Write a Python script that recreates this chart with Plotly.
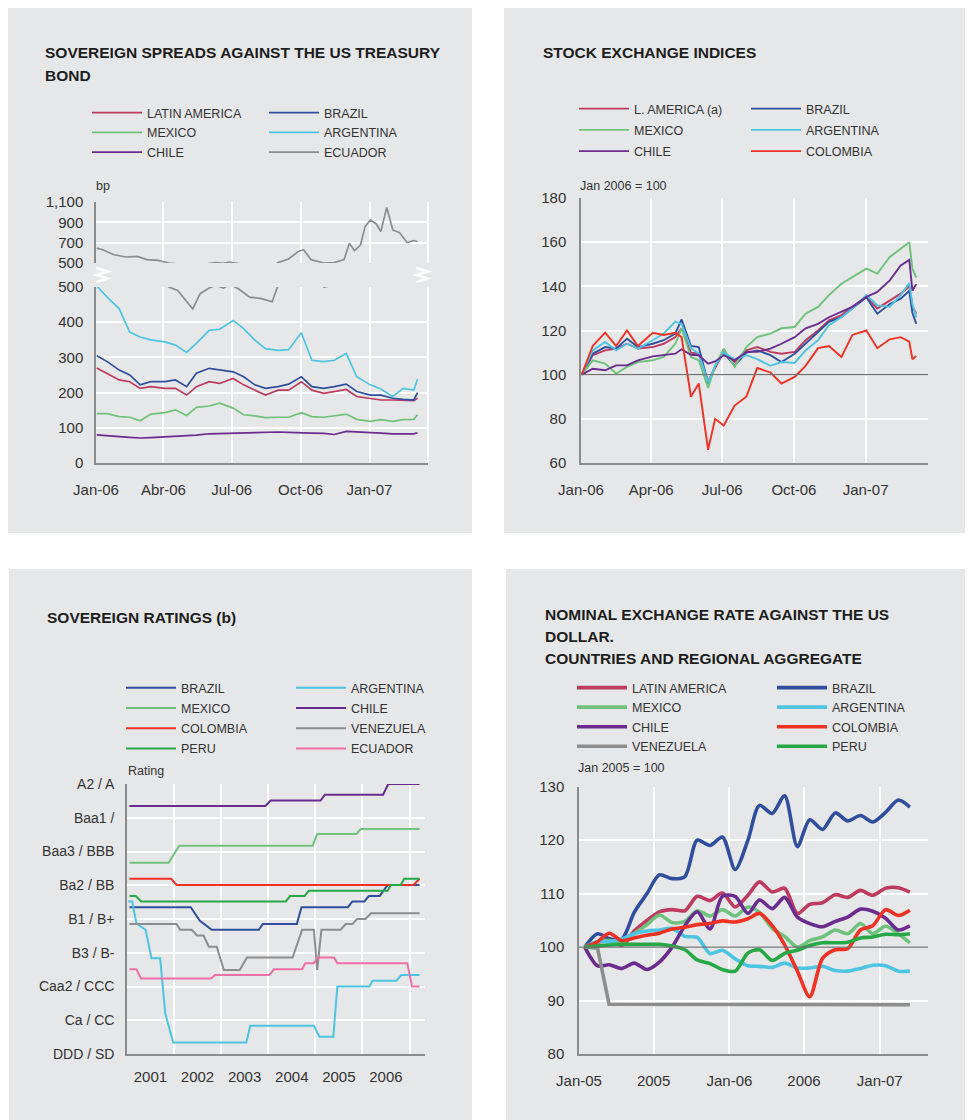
import plotly.graph_objects as go

W, H = 973, 1120
OFF = 8  # the page body offsets the figure by 8px
def X(px): return (px - OFF) / W
def Y(py): return 1 - (py - OFF) / H

FONT = "Liberation Sans, Arial, Helvetica, sans-serif"
TXT = "#333333"
PANEL = "#e6e7e8"

C_LATAM = "#be3a60"
C_BRAZIL = "#2f4f9e"
C_MEXICO = "#6fc27c"
C_ARG = "#4ec4e3"
C_CHILE = "#6a2c8f"
C_GRAY = "#8d8d8d"
C_COL = "#ef3224"
C_PERU = "#27a846"
C_PINK = "#ef6fa8"

# ---------------- Sovereign spreads (bp) ----------------
tl_dates = ["2006-01-02", "2006-01-16", "2006-02-01", "2006-02-15", "2006-03-01", "2006-03-15",
            "2006-04-03", "2006-04-17", "2006-05-02", "2006-05-15", "2006-06-01", "2006-06-15",
            "2006-07-03", "2006-07-17", "2006-08-01", "2006-08-15", "2006-09-01", "2006-09-15",
            "2006-10-02", "2006-10-16", "2006-11-01", "2006-11-15", "2006-12-01", "2006-12-15",
            "2007-01-02", "2007-01-16", "2007-02-01", "2007-02-15", "2007-03-01", "2007-03-06"]
tl_latam = [270, 255, 236, 231, 212, 217, 212, 212, 193, 217, 231, 226, 240, 222, 207,
            193, 207, 207, 231, 207, 198, 203, 209, 189, 184, 179, 179, 177, 177, 184]
tl_brazil = [305, 288, 264, 250, 222, 231, 231, 236, 217, 255, 269, 264, 259, 245, 222,
             212, 217, 224, 245, 217, 212, 217, 224, 203, 193, 193, 184, 181, 179, 200]
tl_mexico = [140, 140, 132, 130, 120, 139, 143, 151, 135, 158, 162, 170, 156, 137, 134,
             129, 130, 130, 143, 132, 130, 134, 139, 124, 118, 123, 118, 123, 124, 137]
tl_argentina = [503, 471, 438, 372, 358, 350, 344, 335, 314, 340, 377, 380, 405, 382, 349,
                325, 320, 322, 370, 292, 288, 292, 311, 245, 222, 210, 189, 212, 207, 238]
tl_chile = [80, 77, 75, 73, 71, 72, 74, 75, 76, 79, 83, 84, 84, 85, 87,
            88, 88, 87, 87, 85, 84, 81, 90, 89, 87, 85, 83, 82, 83, 86]
ecu_dates = ["2006-01-02", "2006-01-10", "2006-01-25", "2006-02-10", "2006-02-25", "2006-03-10",
             "2006-03-25", "2006-04-08", "2006-04-20", "2006-05-01", "2006-05-10", "2006-05-20",
             "2006-06-01", "2006-06-10", "2006-06-20", "2006-06-28", "2006-07-10", "2006-07-25",
             "2006-08-10", "2006-08-24", "2006-09-01", "2006-09-15", "2006-09-28", "2006-10-05",
             "2006-10-15", "2006-11-01", "2006-11-15", "2006-11-28", "2006-12-05", "2006-12-12",
             "2006-12-20", "2006-12-26", "2007-01-02", "2007-01-10", "2007-01-16", "2007-01-20",
             "2007-01-24", "2007-02-01", "2007-02-10", "2007-02-20", "2007-03-01", "2007-03-06"]
ecu_vals = [646, 630, 581, 559, 565, 533, 526, 500, 490, 462,
            438, 481, 497, 505, 497, 508, 495, 471, 467, 458,
            505, 539, 614, 630, 533, 500, 505, 533, 695, 620,
            679, 858, 923, 884, 809, 923, 1046, 825, 799, 702,
            721, 711]
tl_tickvals = ["2006-01-01", "2006-04-01", "2006-07-01", "2006-10-01", "2007-01-01"]
tl_ticktext = ["Jan-06", "Abr-06", "Jul-06", "Oct-06", "Jan-07"]
tl_low_ticks = [0, 100, 200, 300, 400, 500]
tl_low_text = ["0", "100", "200", "300", "400", "500"]
tl_up_ticks = [500, 700, 900, 1100]
tl_up_text = ["500", "700", "900", "1,100"]

# ---------------- Stock exchange indices ----------------
tr_dates = ["2006-01-02", "2006-01-16", "2006-02-01", "2006-02-15", "2006-03-01", "2006-03-15",
            "2006-04-03", "2006-04-17", "2006-05-02", "2006-05-10", "2006-05-22", "2006-06-01",
            "2006-06-13", "2006-06-22", "2006-07-03", "2006-07-17", "2006-08-01", "2006-08-15",
            "2006-09-01", "2006-09-15", "2006-10-02", "2006-10-16", "2006-11-01", "2006-11-15",
            "2006-12-01", "2006-12-15", "2007-01-02", "2007-01-16", "2007-02-01", "2007-02-15",
            "2007-02-26", "2007-03-02", "2007-03-07"]
tr_latam = [100, 108.8, 111, 111.8, 114, 111.8, 112.5, 114, 117, 121, 110, 109.5, 97, 103, 110.3,
            105.7, 111, 112.5, 110.3, 109.5, 110.3, 115.6, 120, 124.6, 127, 130.7, 135.2, 130,
            133.7, 136.7, 140, 131, 127.6]
tr_brazil = [100, 109.5, 112.5, 111.8, 116.3, 112.5, 114, 115.6, 118.6, 125, 113, 112.5, 96, 104, 110,
             104, 110, 111, 108.8, 105.7, 109.5, 114, 119.3, 123.9, 126, 130, 135, 127.6,
             132, 134.4, 138, 128, 123]
tr_mexico = [100, 106.5, 105, 100.5, 103.5, 105.7, 106.5, 108, 114, 121, 108, 106.5, 94, 104, 111.8,
             103.5, 112.5, 117, 118.6, 121, 121.6, 127.6, 130.7, 136, 141.2, 144.2, 148, 145.8,
             153.3, 157, 160, 148, 144]
tr_argentina = [100, 111, 114.8, 111, 114, 111.8, 115.6, 118.6, 124, 123, 112, 109.5, 96.5, 104, 110,
                107, 108.8, 107, 104, 105.7, 105.3, 111, 115.6, 122.4, 126, 130, 136, 131.4,
                130.7, 136, 141.5, 132, 126]
tr_chile = [100, 102.7, 102, 104.2, 104.2, 106.5, 108.3, 108.8, 109.5, 111.5, 109, 108.8, 105, 106, 108.8,
            106.5, 110.3, 110.3, 111.8, 114, 117, 121, 123, 126, 128.4, 130.7, 135.2, 137.5,
            142.7, 149.5, 152, 138, 141]
tr_colombia = [100, 113, 119, 113, 120, 113, 119, 118, 119, 117, 90, 96, 66, 80, 77,
               86, 90, 103, 101, 96, 99, 104, 112, 113, 108, 118, 120, 112,
               116, 117, 115, 107, 108.5]
tr_ticktext = ["Jan-06", "Apr-06", "Jul-06", "Oct-06", "Jan-07"]

# ---------------- Sovereign ratings ----------------
rating_labels = ["DDD / SD", "Ca / CC", "Caa2 / CCC", "B3 / B-", "B1 / B+",
                 "Ba2 / BB", "Baa3 / BBB", "Baa1 /", "A2 / A"]
rating_levels = [0, 1, 2, 3, 4, 5, 6, 7, 8]
bl_years = ["2001-07-02", "2002-07-02", "2003-07-02", "2004-07-02", "2005-07-02", "2006-07-02"]
bl_year_text = ["2001", "2002", "2003", "2004", "2005", "2006"]
bl_year_grid = ["2002-01-01", "2003-01-01", "2004-01-01", "2005-01-01", "2006-01-01", "2007-01-01"]

rt_brazil_x = ["2001-01-20", "2002-05-10", "2002-07-20", "2002-08-20", "2002-10-20", "2003-10-20",
               "2003-11-20", "2004-08-10", "2004-09-15", "2005-09-10", "2005-10-15", "2006-01-15",
               "2006-02-20", "2006-05-15", "2006-06-15", "2006-07-15", "2007-03-20"]
rt_brazil_y = [4.35, 4.35, 3.95, 3.85, 3.68, 3.68, 3.85, 3.85, 4.35, 4.35, 4.52, 4.52,
               4.68, 4.68, 4.84, 5.01, 5.01]
rt_mexico_x = ["2001-01-20", "2001-11-20", "2001-12-20", "2002-02-10", "2004-12-10", "2005-01-15",
               "2005-11-15", "2005-12-20", "2007-03-20"]
rt_mexico_y = [5.67, 5.67, 5.85, 6.17, 6.17, 6.52, 6.52, 6.67, 6.67]
rt_colombia_x = ["2001-01-20", "2001-12-10", "2002-01-20", "2007-02-01", "2007-03-20"]
rt_colombia_y = [5.19, 5.19, 5.01, 5.01, 5.19]
rt_peru_x = ["2001-01-20", "2001-03-10", "2001-04-20", "2004-05-15", "2004-06-20", "2004-10-10",
             "2004-11-10", "2006-07-15", "2006-08-10", "2006-10-25", "2006-11-20", "2007-03-20"]
rt_peru_y = [4.68, 4.68, 4.52, 4.52, 4.68, 4.68, 4.84, 4.84, 5.01, 5.01, 5.19, 5.19]
rt_argentina_x = ["2001-01-10", "2001-02-10", "2001-03-15", "2001-05-25", "2001-07-10", "2001-09-15",
                  "2001-10-25", "2001-12-25", "2003-07-15", "2003-08-15", "2004-12-20", "2005-02-01",
                  "2005-05-20", "2005-06-20", "2006-02-25", "2006-03-20", "2006-09-20", "2006-10-30",
                  "2007-03-20"]
rt_argentina_y = [4.52, 4.52, 3.87, 3.68, 2.84, 2.84, 1.2, 0.34, 0.34, 0.84, 0.84, 0.51,
                  0.51, 2.0, 2.0, 2.17, 2.17, 2.34, 2.34]
rt_chile_x = ["2001-01-20", "2003-12-10", "2004-01-20", "2005-02-10", "2005-03-15", "2006-06-10",
              "2006-07-20", "2007-03-20"]
rt_chile_y = [7.35, 7.35, 7.51, 7.51, 7.68, 7.68, 8.0, 8.0]
rt_venezuela_x = ["2001-01-20", "2002-01-20", "2002-02-17", "2002-05-18", "2002-06-28", "2002-08-18",
                  "2002-09-27", "2002-11-28", "2003-01-22", "2003-05-25", "2003-07-20", "2004-07-08",
                  "2004-09-20", "2004-12-20", "2005-01-15", "2005-02-17", "2005-07-15", "2005-08-25",
                  "2005-10-15", "2005-11-20", "2006-01-25", "2006-03-08", "2007-03-20"]
rt_venezuela_y = [3.85, 3.85, 3.68, 3.68, 3.51, 3.51, 3.18, 3.18, 2.49, 2.49, 2.86, 2.86,
                  3.68, 3.68, 2.49, 3.68, 3.68, 3.85, 3.85, 4.0, 4.0, 4.17, 4.17]
rt_ecuador_x = ["2001-01-20", "2001-03-15", "2001-04-20", "2002-10-15", "2002-11-15", "2004-01-10",
                "2004-02-15", "2004-09-20", "2004-10-15", "2004-12-20", "2005-01-15", "2005-05-25",
                "2005-06-20", "2006-12-15", "2007-01-20", "2007-03-20"]
rt_ecuador_y = [2.51, 2.51, 2.24, 2.24, 2.34, 2.34, 2.51, 2.51, 2.69, 2.69, 2.86, 2.86,
                2.69, 2.69, 2.0, 2.0]

# ---------------- Nominal exchange rate ----------------
br_dates = ["2005-01-15", "2005-02-15", "2005-03-15", "2005-04-15", "2005-05-15", "2005-06-15",
            "2005-07-15", "2005-08-15", "2005-09-15", "2005-10-15", "2005-11-15", "2005-12-15",
            "2006-01-15", "2006-02-15", "2006-03-15", "2006-04-15", "2006-05-15", "2006-06-15",
            "2006-07-15", "2006-08-15", "2006-09-15", "2006-10-15", "2006-11-15", "2006-12-15",
            "2007-01-15", "2007-02-15", "2007-03-15"]
br_latam = [100, 100.8, 101.5, 100.3, 103, 105, 106.6, 107, 106.8, 109.5, 108.7, 110.1, 107.5, 109.7,
            112.2, 110.3, 111, 106.3, 108, 108.3, 109.8, 109.3, 110.6, 109.7, 111, 111.1, 110.3]
br_brazil = [100, 102.5, 101.6, 101.5, 106.5, 110, 113.5, 112.8, 113.2, 120.0, 119.0, 120.6, 114.5, 120.0,
             126.5, 125.0, 128.3, 118.8, 123.8, 122.0, 125.1, 123.6, 124.6, 123.4, 125.2, 127.5, 126.2]
br_mexico = [100, 101, 101.2, 100.8, 102.5, 104.2, 106, 104.6, 104.8, 106.8, 105.8, 107, 105.8, 107.5,
             106.5, 103.5, 102, 100, 101.2, 101.9, 103.2, 102.5, 104.4, 102.5, 103.9, 102.5, 100.8]
br_argentina = [100, 101, 101, 101.5, 102.5, 103, 103.2, 103.5, 102, 101.8, 98.8, 99.4, 97.8, 96.5,
                96.4, 96.2, 97, 96.1, 96.1, 96.4, 95.6, 95.5, 96, 96.6, 96.5, 95.5, 95.5]
br_chile = [100, 96.5, 96.7, 96, 97, 95.8, 97.2, 100, 104, 106.6, 103.4, 109.5, 109.5, 106.3,
            108.8, 107.2, 109.3, 105.6, 104.4, 103.8, 104.8, 105.6, 107.1, 106.7, 105.4, 103.2, 104]
br_colombia = [100, 101, 102.6, 101.2, 101.7, 102.2, 102.6, 103.4, 103.7, 104.2, 104.4, 104.9, 104.7, 105.3,
               106.3, 104, 100.4, 95.5, 90.7, 97.9, 99.5, 99.7, 103.2, 104, 107, 105.9, 106.9]
br_peru = [100, 100.2, 100.4, 100.5, 100.5, 100.5, 100.5, 100.2, 99.5, 97.6, 96.9, 95.8, 95.5, 98.9,
           99.5, 97.5, 98.8, 99.4, 100.3, 100.8, 100.8, 100.9, 101.7, 101.9, 102.4, 102.3, 102.5]
br_venezuela = [100, 99.8, 89.3, 89.3, 89.3, 89.3, 89.3, 89.3, 89.3, 89.3, 89.3, 89.3, 89.3, 89.3,
                89.3, 89.3, 89.3, 89.3, 89.3, 89.3, 89.3, 89.3, 89.3, 89.3, 89.3, 89.3, 89.2]
br_tickvals = ["2005-01-01", "2005-07-01", "2006-01-01", "2006-07-01", "2007-01-01"]
br_ticktext = ["Jan-05", "2005", "Jan-06", "2006", "Jan-07"]

fig = go.Figure()

def add(x, y, name, color, width, xa, ya, legend, shape="linear", showlegend=True):
    line = dict(color=color, width=width, shape=shape)
    if shape == "spline":
        line["smoothing"] = 0.8
    fig.add_trace(go.Scatter(
        x=x, y=y, name=name, mode="lines", line=line,
        xaxis=xa, yaxis=ya, legend=legend, legendgroup=legend + name,
        showlegend=showlegend, hoverinfo="skip"))

# Top-left
w1 = 1.7
add(ecu_dates, ecu_vals, "ECUADOR", C_GRAY, w1, "x", "y2", "legend2", showlegend=False)
add(tl_dates, tl_latam, "LATIN AMERICA", C_LATAM, w1, "x", "y", "legend")
add(tl_dates, tl_brazil, "BRAZIL", C_BRAZIL, w1, "x", "y", "legend2")
add(tl_dates, tl_mexico, "MEXICO", C_MEXICO, w1, "x", "y", "legend")
add(tl_dates, tl_argentina, "ARGENTINA", C_ARG, w1, "x", "y", "legend2")
add(tl_dates, tl_chile, "CHILE", C_CHILE, w1, "x", "y", "legend")
add(ecu_dates, ecu_vals, "ECUADOR", C_GRAY, w1, "x", "y", "legend2")

# Top-right
w2 = 1.9
add(tr_dates, tr_latam, "L. AMERICA (a)", C_LATAM, w2, "x3", "y3", "legend3")
add(tr_dates, tr_brazil, "BRAZIL", C_BRAZIL, w2, "x3", "y3", "legend4")
add(tr_dates, tr_mexico, "MEXICO", C_MEXICO, w2, "x3", "y3", "legend3")
add(tr_dates, tr_argentina, "ARGENTINA", C_ARG, w2, "x3", "y3", "legend4")
add(tr_dates, tr_chile, "CHILE", C_CHILE, w2, "x3", "y3", "legend3")
add(tr_dates, tr_colombia, "COLOMBIA", C_COL, w2, "x3", "y3", "legend4")

# Bottom-left
w3 = 2
add(rt_brazil_x, rt_brazil_y, "BRAZIL", C_BRAZIL, w3, "x4", "y4", "legend5")
add(rt_mexico_x, rt_mexico_y, "MEXICO", C_MEXICO, w3, "x4", "y4", "legend5")
add(rt_colombia_x, rt_colombia_y, "COLOMBIA", C_COL, w3, "x4", "y4", "legend5")
add(rt_peru_x, rt_peru_y, "PERU", C_PERU, w3, "x4", "y4", "legend5")
add(rt_argentina_x, rt_argentina_y, "ARGENTINA", C_ARG, w3, "x4", "y4", "legend6")
add(rt_chile_x, rt_chile_y, "CHILE", C_CHILE, w3, "x4", "y4", "legend6")
add(rt_venezuela_x, rt_venezuela_y, "VENEZUELA", C_GRAY, w3, "x4", "y4", "legend6")
add(rt_ecuador_x, rt_ecuador_y, "ECUADOR", C_PINK, w3, "x4", "y4", "legend6")

# Bottom-right
w4 = 3.6
add(br_dates, br_latam, "LATIN AMERICA", C_LATAM, w4, "x5", "y5", "legend7", "spline")
add(br_dates, br_brazil, "BRAZIL", C_BRAZIL, w4, "x5", "y5", "legend8", "spline")
add(br_dates, br_mexico, "MEXICO", C_MEXICO, w4, "x5", "y5", "legend7", "spline")
add(br_dates, br_argentina, "ARGENTINA", C_ARG, w4, "x5", "y5", "legend8", "spline")
add(br_dates, br_chile, "CHILE", C_CHILE, w4, "x5", "y5", "legend7", "spline")
add(br_dates, br_colombia, "COLOMBIA", C_COL, w4, "x5", "y5", "legend8", "spline")
add(br_dates, br_venezuela, "VENEZUELA", C_GRAY, w4, "x5", "y5", "legend7")
add(br_dates, br_peru, "PERU", C_PERU, w4, "x5", "y5", "legend8", "spline")

AXLINE = "#8c8c8c"
tickfont = dict(family=FONT, size=15, color=TXT)
base = dict(showgrid=True, gridcolor="white", gridwidth=1.8, showline=True, linecolor=AXLINE,
            linewidth=1.5, ticks="", zeroline=False, tickfont=tickfont, fixedrange=True,
            automargin=False)

layout = dict(
    width=W, height=H, autosize=False,
    margin=dict(l=0, r=0, t=0, b=0, pad=0, autoexpand=False),
    paper_bgcolor="white", plot_bgcolor=PANEL,
    font=dict(family=FONT, color=TXT),
    xaxis=dict(base, domain=[X(96), X(428)], anchor="y", type="date",
               range=["2006-01-01", "2007-03-20"], tickmode="array",
               tickvals=tl_tickvals, ticktext=tl_ticktext, ticklabelstandoff=12),
    yaxis=dict(base, domain=[Y(463), Y(287)], anchor="x", range=[0, 500], tickmode="array",
               tickvals=tl_low_ticks, ticktext=tl_low_text, ticklabelstandoff=8),
    yaxis2=dict(base, domain=[Y(263), Y(202)], anchor="x", range=[500, 1100], tickmode="array",
                tickvals=tl_up_ticks, ticktext=tl_up_text, ticklabelstandoff=8),
    xaxis3=dict(base, domain=[X(581), X(928)], anchor="y3", type="date",
                range=["2006-01-01", "2007-03-22"], tickmode="array",
                tickvals=tl_tickvals, ticktext=tr_ticktext, ticklabelstandoff=12),
    yaxis3=dict(base, domain=[Y(463), Y(198)], anchor="x3", range=[60, 180], dtick=20,
                ticklabelstandoff=10),
    xaxis4=dict(base, domain=[X(127), X(425)], anchor="y4", type="date",
                range=["2001-01-01", "2007-05-01"], tickmode="array",
                tickvals=bl_years, ticktext=bl_year_text, showgrid=False, ticklabelstandoff=8,
                minor=dict(tickmode="array", tickvals=bl_year_grid, showgrid=True,
                           gridcolor="white", gridwidth=1.8, ticks="")),
    yaxis4=dict(base, domain=[Y(1054), Y(784)], anchor="x4", range=[0, 8], tickmode="array",
                tickvals=rating_levels, ticktext=rating_labels, ticklabelstandoff=8,
                tickfont=dict(family=FONT, size=14, color=TXT)),
    xaxis5=dict(base, domain=[X(579), X(928)], anchor="y5", type="date",
                range=["2005-01-01", "2007-04-28"], tickmode="array",
                tickvals=br_tickvals, ticktext=br_ticktext, ticklabelstandoff=12),
    yaxis5=dict(base, domain=[Y(1054), Y(786.7)], anchor="x5", range=[80, 130], dtick=10,
                ticklabelstandoff=10),
)

legfont = dict(family=FONT, size=12.5, color=TXT)
def leg(xpx, ypx, gap):
    return dict(x=X(xpx), y=Y(ypx), xanchor="left", yanchor="top", orientation="v",
                bgcolor="rgba(0,0,0,0)", borderwidth=0, font=legfont, itemwidth=50,
                tracegroupgap=gap, traceorder="grouped")

layout["legend"] = leg(87, 98, 0.5)
layout["legend2"] = leg(264, 98, 0.5)
layout["legend3"] = leg(574, 94, 2)
layout["legend4"] = leg(746, 94, 2)
layout["legend5"] = leg(121, 673, 1)
layout["legend6"] = leg(291, 673, 1)
layout["legend7"] = leg(572, 673, 0.3)
layout["legend8"] = leg(772, 673, 0.3)

fig.update_layout(**layout)

# panel backgrounds
for (x0, y0, x1, y1) in [(7, 7, 472, 533), (504, 7, 985, 533), (9, 569, 472, 1132), (506, 569, 985, 1132)]:
    fig.add_shape(type="rect", xref="paper", yref="paper", x0=X(x0), x1=X(x1), y0=Y(y1), y1=Y(y0),
                  fillcolor=PANEL, line=dict(width=0), layer="below")

# right white frame line of the spread chart
for ya in ["y domain", "y2 domain"]:
    fig.add_shape(type="line", xref="x domain", yref=ya, x0=1, x1=1, y0=0, y1=1,
                  line=dict(color="white", width=1.8), layer="below")

# axis-break marks
def zig(xl, xr, yt, yb):
    pts = [(xl, yt), (xr, yt + (yb - yt) * 0.25), (xl, yt + (yb - yt) * 0.5),
           (xr, yt + (yb - yt) * 0.75), (xl, yb)]
    return "M " + " L ".join(f"{X(a):.5f},{Y(b):.5f}" for a, b in pts)

for xl, xr in [(96, 108), (416, 428)]:
    fig.add_shape(type="path", xref="paper", yref="paper", path=zig(xl, xr, 268, 282),
                  line=dict(color="white", width=2.5))

# reference lines at 100
for xa, ya in [("x3", "y3"), ("x5", "y5")]:
    fig.add_shape(type="line", xref=f"{xa} domain", yref=ya, x0=0, x1=1, y0=100, y1=100,
                  line=dict(color="#6d6e71", width=1.3), layer="above")

def text(xpx, ypx, s, size, bold=False):
    fig.add_annotation(xref="paper", yref="paper", x=X(xpx), y=Y(ypx), xanchor="left",
                       yanchor="middle", showarrow=False,
                       text=f"<b>{s}</b>" if bold else s,
                       font=dict(family=FONT, size=size, color="#1d1d1d" if bold else TXT))

TS = 15.5
text(43, 53, "SOVEREIGN SPREADS AGAINST THE US TREASURY", TS, True)
text(43, 75, "BOND", TS, True)
text(541, 53, "STOCK EXCHANGE INDICES", TS, True)
text(45, 617, "SOVEREIGN RATINGS (b)", TS, True)
text(543, 614, "NOMINAL EXCHANGE RATE AGAINST THE US", TS, True)
text(543, 636, "DOLLAR.", TS, True)
text(543, 658, "COUNTRIES AND REGIONAL AGGREGATE", TS, True)

text(94, 186, "bp", 12.5)
text(578, 186, "Jan 2006 = 100", 12.5)
text(126, 771, "Rating", 12.5)
text(576, 768, "Jan 2005 = 100", 12.5)

fig.write_html("out.html")
